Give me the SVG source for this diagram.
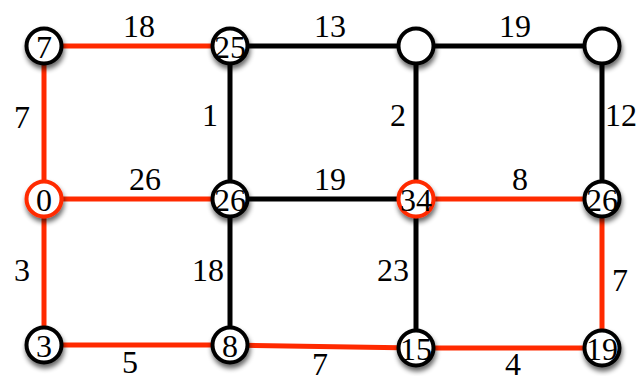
<svg xmlns="http://www.w3.org/2000/svg" width="640" height="376" viewBox="0 0 640 376">
<defs>
<filter id="sh" x="-50%" y="-50%" width="200%" height="200%">
<feGaussianBlur in="SourceAlpha" stdDeviation="2.5"/>
<feOffset dx="1" dy="4" result="b"/>
<feComponentTransfer><feFuncA type="linear" slope="0.6"/></feComponentTransfer>
<feMerge><feMergeNode/><feMergeNode in="SourceGraphic"/></feMerge>
</filter>
</defs>
<style>
.e{stroke-width:5;fill:none}
.k{stroke:#000}
.r{stroke:#ff2a00}
.n circle{fill:#fff;stroke:#000;stroke-width:4;filter:url(#sh)}
.n.rd circle{stroke:#ff2a00}
text{font-family:"Liberation Serif","Times New Roman",serif;font-size:32px;fill:#000;text-anchor:middle}
</style>
<rect width="640" height="376" fill="#fff"/>
<g id="connectors">
<line class="e r" x1="44" y1="46" x2="230" y2="46"/>
<line class="e k" x1="230" y1="46" x2="416" y2="46"/>
<line class="e k" x1="416" y1="46" x2="602" y2="46"/>
<line class="e r" x1="44" y1="46" x2="44" y2="199"/>
<line class="e k" x1="230" y1="46" x2="230" y2="199"/>
<line class="e k" x1="416" y1="46" x2="416" y2="199"/>
<line class="e k" x1="602" y1="46" x2="602" y2="199"/>
<line class="e r" x1="44" y1="199" x2="230" y2="199"/>
<line class="e k" x1="230" y1="199" x2="416" y2="199"/>
<line class="e r" x1="416" y1="199" x2="602" y2="199"/>
<line class="e r" x1="44" y1="199" x2="44" y2="345"/>
<line class="e k" x1="230" y1="199" x2="230" y2="345"/>
<line class="e k" x1="416" y1="199" x2="416" y2="348"/>
<line class="e r" x1="602" y1="199" x2="602" y2="348"/>
<line class="e r" x1="44" y1="345" x2="230" y2="345"/>
<line class="e r" x1="230" y1="345" x2="416" y2="348"/>
<line class="e r" x1="416" y1="348" x2="602" y2="348"/>
</g>
<g id="edge-labels">
<text x="139" y="37">18</text>
<text x="330" y="37">13</text>
<text x="515" y="37">19</text>
<text x="22" y="128">7</text>
<text x="210" y="126">1</text>
<text x="398" y="126">2</text>
<text x="621" y="126">12</text>
<text x="145" y="190">26</text>
<text x="330" y="190">19</text>
<text x="520" y="190">8</text>
<text x="22" y="281">3</text>
<text x="208" y="281">18</text>
<text x="393" y="281">23</text>
<text x="620" y="291">7</text>
<text x="130" y="373">5</text>
<text x="320" y="375">7</text>
<text x="513" y="375">4</text>
</g>
<g id="n7" class="n"><circle cx="44" cy="46" r="17.5"/><text x="44" y="58">7</text></g>
<g id="n25" class="n"><circle cx="230" cy="46" r="17.5"/><text x="230" y="58">25</text></g>
<g id="nA" class="n"><circle cx="416" cy="46" r="17.5"/></g>
<g id="nB" class="n"><circle cx="602" cy="46" r="17.5"/></g>
<g id="n0" class="n rd"><circle cx="44" cy="199" r="17.5"/><text x="44" y="211">0</text></g>
<g id="n26a" class="n"><circle cx="230" cy="199" r="17.5"/><text x="230" y="211">26</text></g>
<g id="n34" class="n rd"><circle cx="416" cy="199" r="17.5"/><text x="416" y="211">34</text></g>
<g id="n26b" class="n"><circle cx="602" cy="199" r="17.5"/><text x="602" y="211">26</text></g>
<g id="n3" class="n"><circle cx="44" cy="345" r="17.5"/><text x="44" y="357">3</text></g>
<g id="n8" class="n"><circle cx="230" cy="345" r="17.5"/><text x="230" y="357">8</text></g>
<g id="n15" class="n"><circle cx="416" cy="348" r="17.5"/><text x="416" y="360">15</text></g>
<g id="n19" class="n"><circle cx="602" cy="348" r="17.5"/><text x="602" y="360">19</text></g>
</svg>
